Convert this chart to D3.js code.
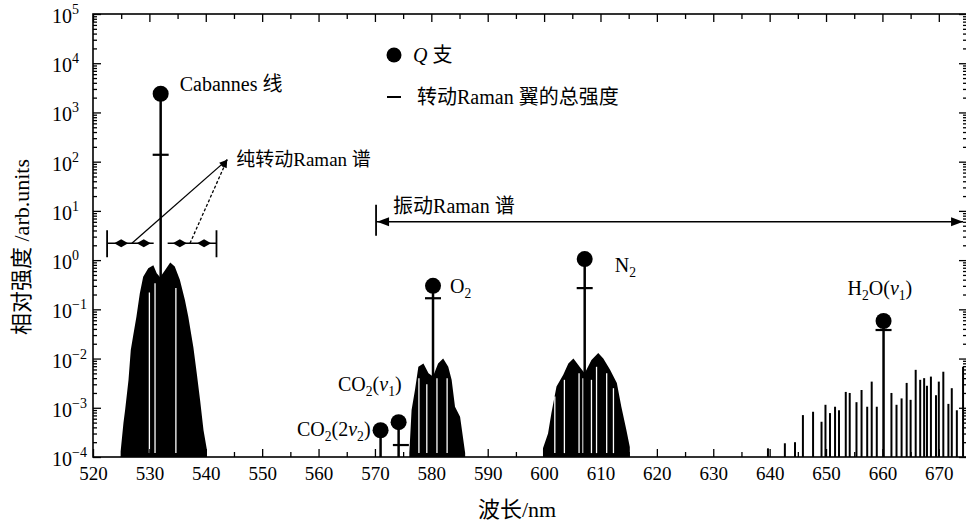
<!DOCTYPE html>
<html><head><meta charset="utf-8">
<script src="https://cdn.jsdelivr.net/npm/d3@7"></script>
<style>
body{margin:0;background:#fff;}
svg text{font-family:"Liberation Serif","Noto Sans CJK SC",serif;fill:#000;}
</style></head><body>
<svg id="c" width="966" height="524"></svg>
<script>
// ---------------- data ----------------
const xTicks = [520,530,540,550,560,570,580,590,600,610,620,630,640,650,660,670];
const yTickExps = [-4,-3,-2,-1,0,1,2,3,4,5];

// Q-branch lines (dots) : label, wavelength (nm), intensity
const qLabels = ["Cabannes 线","CO_2(2ν_2)","CO_2(ν_1)","O_2","N_2","H_2O(ν_1)"];
const qWavelength = [532.0, 571.0, 574.2, 580.3, 607.2, 660.2];
const qIntensity  = [2400, 3.5e-4, 5.1e-4, 0.30, 1.05, 0.058];

// total intensity of rotational Raman wings (short dashes)
const wingWavelength = [532.0, 574.6, 580.3, 607.2, 660.2];
const wingIntensity  = [138, 1.75e-4, 0.168, 0.27, 0.038];

// pure rotational Raman band around the Cabannes line: [nm, intensity]
const rotBand = [[524.9,1.3e-4],[525.4,4.9e-4],[525.7,9.1e-4],[526.3,3.7e-3],[526.7,1.5e-2],[527.1,2.8e-2],
 [527.7,7.1e-2],[528.3,0.21],[528.9,0.46],[529.8,0.68],[530.7,0.79],[531.3,0.54],[531.9,0.45],[532.8,0.63],
 [533.7,0.89],[534.5,0.74],[535.4,0.40],[536.3,0.155],[536.9,0.071],[537.8,0.017],[538.4,5.0e-3],
 [539.0,1.4e-3],[539.6,3.5e-4],[540.2,1.4e-4]];
const rotGaps = [[530.0,0.22],[531.0,0.34],[534.7,0.27]];

// O2 vibrational-rotational band
const o2Band = [[576.1,1.2e-4],[576.5,9e-4],[577.1,2.3e-3],[577.7,6.8e-3],[578.6,7.9e-3],[579.5,5.0e-3],
 [580.3,4.3e-3],[581.2,7.9e-3],[582.1,1.0e-2],[583.0,6.8e-3],[583.6,3.7e-3],[584.2,1.05e-3],[585.1,6.6e-4],[586.0,1.2e-4]];
const o2Gaps = [[577.8,4e-3],[579.2,3e-3],[581.0,4e-3],[582.8,4e-3]];

// N2 vibrational-rotational band
const n2Band = [[599.8,1.5e-4],[600.7,3.0e-4],[601.3,7.8e-4],[602.2,2.7e-3],[603.4,4.7e-3],[604.3,7.9e-3],
 [605.2,1.0e-2],[606.3,6.8e-3],[607.2,5.0e-3],[608.4,9.3e-3],[609.6,1.3e-2],[610.5,1.0e-2],[611.7,5.9e-3],
 [612.9,3.2e-3],[613.7,1.05e-3],[614.6,3.5e-4],[615.2,1.6e-4]];
const n2Gaps = [[601.9,1.7e-3],[603.6,3.7e-3],[606.2,5e-3],[606.9,4e-3],[608.4,3.7e-3],[609.3,6.8e-3],[611.1,5e-3],[612.3,2.5e-3]];

// H2O rotational lines: [nm, intensity]
const h2oLines = [[639.7,1.5e-4],[642.7,1.9e-4],[644.5,2.0e-4],[645.9,7.1e-4],[647.7,8.3e-4],[649.2,5.2e-4],
 [649.9,1.15e-3],[650.7,7.8e-4],[651.6,1.05e-3],[652.3,8.9e-4],[653.5,2.1e-3],[654.2,2.0e-3],[655.4,1.3e-3],
 [656.3,2.3e-3],[657.3,1.05e-3],[658.1,3.4e-3],[659.0,1.05e-3],[661.6,2.0e-3],[662.5,1.15e-3],[663.4,1.55e-3],
 [664.3,3.2e-3],[665.0,1.45e-3],[665.9,5.9e-3],[666.7,3.7e-3],[667.4,4.0e-3],[667.9,2.8e-3],[668.6,4.3e-3],
 [669.5,1.8e-3],[670.0,3.4e-3],[670.8,5.4e-3],[671.7,1.2e-3],[672.3,2.5e-3],[673.2,8.9e-4],[674.3,6.8e-3]];

// annotations (data units)
const rotWingSpan = [522.5, 541.9];
const rotWingLevel = 2.2;
const rotWingMarks = [525.0, 529.0, 535.4, 539.7];
const rotLabelAnchor = [543.8, 110];
const rotLeaderEnds = [526.9, 537.2];
const vibSpan = [570.2, 674.3];
const vibLevel = 6.0;

// ---------------- drawing ----------------
const svg = d3.select("#c");
const X0 = 93, X1 = 967, Y0 = 457, Y1 = 14;
const x = d3.scaleLinear().domain([520, 675]).range([X0, X1]);
const y = d3.scaleLog().domain([1e-4, 1e5]).range([Y0, Y1]);

svg.append("clipPath").attr("id","plot").append("rect")
  .attr("x",X0).attr("y",Y1).attr("width",X1-X0).attr("height",Y0-Y1);
const plot = svg.append("g").attr("clip-path","url(#plot)");

// bands
const area = d3.area().x(d=>x(d[0])).y0(y(1e-4)).y1(d=>y(d[1]));
[rotBand, o2Band, n2Band].forEach(b=>{
  plot.append("path").datum(b).attr("d",area).attr("fill","#000");
});
// white gaps inside bands
[rotGaps, o2Gaps, n2Gaps].forEach(gs=>{
  plot.append("g").selectAll("line").data(gs).join("line")
    .attr("x1",d=>x(d[0])).attr("x2",d=>x(d[0]))
    .attr("y1",y(1.2e-4)).attr("y2",d=>y(d[1]))
    .attr("stroke","#fff").attr("stroke-width",1.3);
});
// H2O lines
plot.append("g").selectAll("line").data(h2oLines).join("line")
  .attr("x1",d=>x(d[0])).attr("x2",d=>x(d[0]))
  .attr("y1",y(1e-4)).attr("y2",d=>y(d[1]))
  .attr("stroke","#000").attr("stroke-width",2);

// Q-branch stems and dots
const qData = qWavelength.map((w,i)=>({w, v:qIntensity[i], label:qLabels[i]}));
plot.append("g").selectAll("line").data(qData).join("line")
  .attr("x1",d=>x(d.w)).attr("x2",d=>x(d.w))
  .attr("y1",y(1e-4)).attr("y2",d=>y(d.v))
  .attr("stroke","#000").attr("stroke-width",2.5);
plot.append("g").selectAll("circle").data(qData).join("circle")
  .attr("cx",d=>x(d.w)).attr("cy",d=>y(d.v)).attr("r",8).attr("fill","#000");

// wing total-intensity dashes
plot.append("g").selectAll("line").data(wingWavelength).join("line")
  .attr("x1",(d)=>x(d)-8).attr("x2",(d)=>x(d)+8)
  .attr("y1",(d,i)=>y(wingIntensity[i])).attr("y2",(d,i)=>y(wingIntensity[i]))
  .attr("stroke","#000").attr("stroke-width",2.2);

// rich text helper: "_c" -> subscript, ν -> italic
function richText(g, str, px, py, anchor, size){
  const t = g.append("text").attr("x",px).attr("y",py).attr("text-anchor",anchor).attr("font-size",size);
  let shift = 0;
  const chars = [...str];
  for (let i=0;i<chars.length;i++){
    let c = chars[i], sub=false;
    if (c==="_"){ sub=true; c=chars[++i]; }
    const ts = t.append("tspan").text(c);
    const target = sub ? 5 : 0;
    if (target!==shift){ ts.attr("dy", target-shift); shift=target; }
    if (sub) ts.attr("font-size", size*0.68);
    if (c==="ν") ts.attr("font-style","italic");
  }
  return t;
}

// Q labels
const labelLayout = [
  {dx:19, dy:-3, a:"start"},
  {dx:-10, dy:6, a:"end"},
  {dx:3, dy:-31, a:"end"},
  {dx:17, dy:7, a:"start"},
  {dx:30, dy:13, a:"start"},
  {dx:-36, dy:-26, a:"start"}
];
const lg = svg.append("g");
qData.forEach((d,i)=>{
  const L = labelLayout[i];
  richText(lg, d.label, x(d.w)+L.dx, y(d.v)+L.dy, L.a, 20);
});

// arrowhead helper
function head(g, tx, ty, ang, len=11, half=4.5){
  const c=Math.cos(ang), s=Math.sin(ang);
  const bx=tx-len*c, by=ty-len*s;
  g.append("path").attr("d",`M${tx},${ty}L${bx-half*s},${by+half*c}L${bx+half*s},${by-half*c}Z`).attr("fill","#000");
}

// rotational wing arrows
const ann = svg.append("g");
const wy = y(rotWingLevel);
const cab = x(qWavelength[0]);
ann.append("line").attr("x1",x(rotWingSpan[0])).attr("x2",cab-7).attr("y1",wy).attr("y2",wy).attr("stroke","#000").attr("stroke-width",1.6);
ann.append("line").attr("x1",cab+7).attr("x2",x(rotWingSpan[1])).attr("y1",wy).attr("y2",wy).attr("stroke","#000").attr("stroke-width",1.6);
rotWingSpan.forEach(w=>{
  ann.append("line").attr("x1",x(w)).attr("x2",x(w)).attr("y1",wy-13).attr("y2",wy+14).attr("stroke","#000").attr("stroke-width",1.8);
});
rotWingMarks.forEach(w=>{
  const cx=x(w);
  ann.append("path").attr("d",`M${cx-7},${wy}L${cx},${wy-4}L${cx+7},${wy}L${cx},${wy+4}Z`).attr("fill","#000");
});
// leader lines to label
const lax = x(rotLabelAnchor[0]), lay = y(rotLabelAnchor[1]);
rotLeaderEnds.forEach((w,i)=>{
  const ex = x(w), ey = wy;
  ann.append("line").attr("x1",ex).attr("y1",ey).attr("x2",lax).attr("y2",lay)
    .attr("stroke","#000").attr("stroke-width",1.3).attr("stroke-dasharray", i===1 ? "3,2" : null);
  head(ann, lax, lay, Math.atan2(lay-ey, lax-ex), 8, 3);
});
richText(ann, "纯转动Raman 谱", lax+9, lay+6, "start", 19);

// vibrational Raman arrow
const vy = y(vibLevel), vx0 = x(vibSpan[0]), vx1 = x(vibSpan[1]);
ann.append("line").attr("x1",vx0).attr("x2",vx1).attr("y1",vy).attr("y2",vy).attr("stroke","#000").attr("stroke-width",1.6);
ann.append("line").attr("x1",vx0).attr("x2",vx0).attr("y1",vy-17).attr("y2",vy+14).attr("stroke","#000").attr("stroke-width",1.8);
head(ann, vx0+1, vy, Math.PI, 12, 4.5);
head(ann, vx1, vy, 0, 12, 4.5);
richText(ann, "振动Raman 谱", vx0+17, vy-9, "start", 20);

// legend
const leg = svg.append("g");
leg.append("circle").attr("cx",394).attr("cy",55).attr("r",7.5).attr("fill","#000");
const qt = leg.append("text").attr("x",413).attr("y",62).attr("font-size",20);
qt.append("tspan").attr("font-style","italic").text("Q");
qt.append("tspan").text(" 支");
leg.append("line").attr("x1",387).attr("x2",401).attr("y1",97).attr("y2",97).attr("stroke","#000").attr("stroke-width",2);
leg.append("text").attr("x",417).attr("y",104).attr("font-size",20).text("转动Raman 翼的总强度");

// ---------------- axes ----------------
const FONT = '"Liberation Serif","Noto Sans CJK SC",serif';
const xMinor = d3.range(525, 675, 10);
const yMinor = [];
for (let e=-4; e<5; e++) for (let m=2; m<10; m++) yMinor.push(m*Math.pow(10,e));
const yMajor = yTickExps.map(e=>Math.pow(10,e));

function styleAxis(g){ g.selectAll("path.domain").remove(); g.selectAll("line").attr("stroke","#000").attr("stroke-width",1.3); }

const gB = svg.append("g").attr("transform",`translate(0,${Y0})`)
  .call(d3.axisBottom(x).tickValues(xTicks).tickSizeInner(-8).tickSizeOuter(0).tickPadding(10).tickFormat(d3.format("d")));
gB.attr("font-family",FONT).attr("font-size",19);
styleAxis(gB);
svg.append("g").attr("transform",`translate(0,${Y0})`)
  .call(d3.axisBottom(x).tickValues(xMinor).tickSizeInner(-5).tickSizeOuter(0).tickFormat("")).call(styleAxis);
svg.append("g").attr("transform",`translate(0,${Y1})`)
  .call(d3.axisTop(x).tickValues(xTicks).tickSizeInner(-8).tickSizeOuter(0).tickFormat("")).call(styleAxis);
svg.append("g").attr("transform",`translate(0,${Y1})`)
  .call(d3.axisTop(x).tickValues(xMinor).tickSizeInner(-5).tickSizeOuter(0).tickFormat("")).call(styleAxis);

svg.append("g").attr("transform",`translate(${X0},0)`)
  .call(d3.axisLeft(y).tickValues(yMajor).tickSizeInner(-8).tickSizeOuter(0).tickFormat("")).call(styleAxis);
svg.append("g").attr("transform",`translate(${X0},0)`)
  .call(d3.axisLeft(y).tickValues(yMinor).tickSizeInner(-4).tickSizeOuter(0).tickFormat("")).call(styleAxis);
svg.append("g").attr("transform",`translate(${X1},0)`)
  .call(d3.axisRight(y).tickValues(yMajor).tickSizeInner(-8).tickSizeOuter(0).tickFormat("")).call(styleAxis);
svg.append("g").attr("transform",`translate(${X1},0)`)
  .call(d3.axisRight(y).tickValues(yMinor).tickSizeInner(-4).tickSizeOuter(0).tickFormat("")).call(styleAxis);

// y tick labels 10^n
const yl = svg.append("g");
yTickExps.forEach(e=>{
  const t = yl.append("text").attr("x",52).attr("y",y(Math.pow(10,e))+9).attr("font-size",20);
  t.append("tspan").text("10");
  t.append("tspan").attr("dy",-9).attr("font-size",14).text(e<0 ? "−"+(-e) : String(e));
});

// frame
svg.append("rect").attr("x",X0).attr("y",Y1).attr("width",X1-X0).attr("height",Y0-Y1)
  .attr("fill","none").attr("stroke","#000").attr("stroke-width",1.6);

// axis titles
svg.append("text").attr("x",517).attr("y",517).attr("text-anchor","middle").attr("font-size",22).text("波长/nm");
svg.append("text").attr("transform","translate(29,247) rotate(-90)").attr("text-anchor","middle").attr("font-size",22).text("相对强度 /arb.units");
</script>
</body></html>
